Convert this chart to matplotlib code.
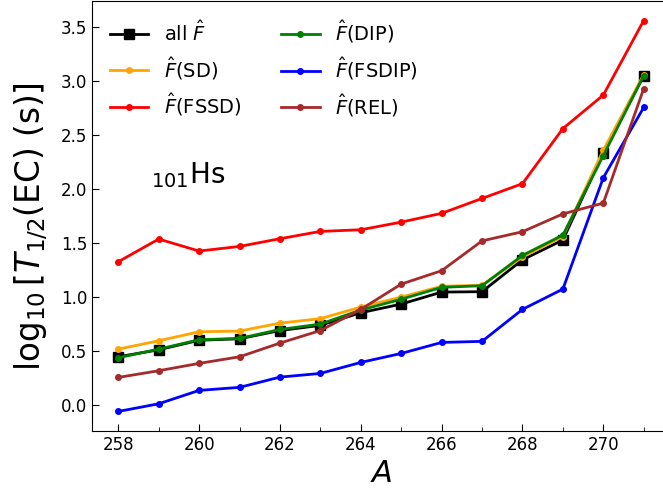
import numpy as np
import matplotlib
matplotlib.use('Agg')
import matplotlib.pyplot as plt
from matplotlib.ticker import MultipleLocator

# 质量数
A = [258, 259, 260, 261, 262, 263, 264, 265, 266, 267, 268, 269, 270, 271]

# log10 T1/2(EC) 各种拟合方式
t_all = [0.447, 0.512, 0.600, 0.614, 0.690, 0.738, 0.855, 0.935, 1.046, 1.050, 1.345, 1.528, 2.336, 3.05]
t_sd = [0.518, 0.595, 0.679, 0.685, 0.759, 0.800, 0.907, 1.000, 1.100, 1.110, 1.370, 1.560, 2.360, 3.06]
t_fssd = [1.327, 1.537, 1.426, 1.469, 1.540, 1.608, 1.623, 1.694, 1.775, 1.913, 2.050, 2.560, 2.870, 3.56]
t_dip = [0.438, 0.518, 0.605, 0.617, 0.700, 0.750, 0.880, 0.980, 1.090, 1.105, 1.386, 1.574, 2.310, 3.05]
t_fsdip = [-0.059, 0.012, 0.136, 0.164, 0.259, 0.293, 0.395, 0.478, 0.580, 0.590, 0.886, 1.074, 2.105, 2.756]
t_rel = [0.256, 0.318, 0.386, 0.447, 0.574, 0.690, 0.886, 1.120, 1.244, 1.520, 1.605, 1.770, 1.870, 2.930]

fig = plt.figure(figsize=(6.63, 4.95), dpi=100)
ax = fig.add_axes([92 / 663, 64 / 495, 578 / 663, 430 / 495])

ax.plot(A, t_all, '-s', color='black', lw=2, ms=7, label=r'all $\hat{F}$')
ax.plot(A, t_sd, '-o', color='orange', lw=2, ms=4, label=r'$\hat{F}$(SD)')
ax.plot(A, t_fssd, '-o', color='red', lw=2, ms=4, label=r'$\hat{F}$(FSSD)')
ax.plot(A, t_dip, '-o', color='green', lw=2, ms=4, label=r'$\hat{F}$(DIP)')
ax.plot(A, t_fsdip, '-o', color='blue', lw=2, ms=4, label=r'$\hat{F}$(FSDIP)')
ax.plot(A, t_rel, '-o', color='brown', lw=2, ms=4, label=r'$\hat{F}$(REL)')

ax.text(258.8, 2.05, r'$_{101}$Hs', fontsize=20)

ax.set_xlabel(r'$A$', fontsize=22)
ax.set_ylabel(r'$\log_{10}[T_{1/2}(\mathrm{EC})\ (\mathrm{s})]$', fontsize=23.5)
ax.yaxis.set_label_coords(-0.0725, 0.475)

ax.xaxis.set_major_locator(MultipleLocator(2))
ax.xaxis.set_minor_locator(MultipleLocator(1))
ax.yaxis.set_major_locator(MultipleLocator(0.5))
ax.tick_params(which='both', direction='in', labelsize=12)
ax.tick_params(which='major', length=5)
ax.tick_params(which='minor', length=3)

ax.legend(loc='upper left', ncol=2, frameon=False, fontsize=14)

plt.savefig('out.png', dpi=100)
